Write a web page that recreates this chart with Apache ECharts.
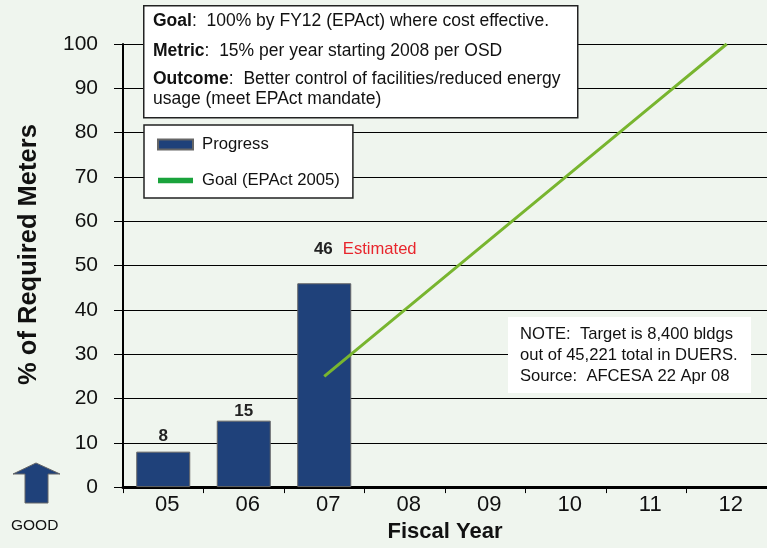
<!DOCTYPE html>
<html>
<head>
<meta charset="utf-8">
<script src="https://cdn.jsdelivr.net/npm/echarts@6/dist/echarts.min.js"></script>
<style>html,body{margin:0;padding:0;background:#eff5ee;}#c{width:767px;height:548px;}</style>
</head>
<body>
<div id="c"></div>
<script>
const categories = ['05','06','07','08','09','10','11','12'];
const progress = [8, 15, 46, null, null, null, null, null];
const goal = [null, null, 25, 40, 55, 70, 85, 100];
const yTicks = {min: 0, max: 100, interval: 10};

const F = 'Liberation Sans, Arial, sans-serif';
const labelDistance = [7, 1, 5];
const chart = echarts.init(document.getElementById('c'));
const boxRich = {b: {fontWeight: 'bold', fontSize: 17.5, fontFamily: F, fill: '#111'}};
chart.setOption({
  backgroundColor: '#eff5ee',
  animation: false,
  textStyle: {fontFamily: F},
  grid: {left: 123, top: 44, width: 650, height: 447, containLabel: false},
  legend: {
    orient: 'vertical', left: 144, top: 125,
    backgroundColor: '#fff', borderColor: '#222', borderWidth: 1.5,
    padding: [11, 13, 9, 13], itemWidth: 35, itemHeight: 10, itemGap: 19,
    textStyle: {fontSize: 16.7, color: '#111', fontFamily: F, padding: [0,0,0,4]},
    data: [
      {name: 'Progress', icon: 'rect'},
      {name: 'Goal (EPAct 2005)', icon: 'path://M0,0 L35,0 L35,5.5 L0,5.5 Z', itemStyle: {color: '#1aa33c'}}
    ]
  },
  xAxis: {
    type: 'category', data: categories, boundaryGap: true,
    name: 'Fiscal Year', nameLocation: 'middle', nameGap: 33,
    nameTextStyle: {fontSize: 22, fontWeight: 'bold', color: '#111', fontFamily: F},
    axisLine: {lineStyle: {color: '#000', width: 3}},
    axisTick: {show: true, inside: false, length: 6, lineStyle: {color: '#000', width: 1}},
    axisLabel: {fontSize: 22, color: '#111', margin: 7, padding: [0,0,0,8], fontFamily: F},
    splitLine: {show: false}
  },
  yAxis: {
    type: 'value', min: yTicks.min, max: yTicks.max, interval: yTicks.interval,
    name: '% of Required Meters', nameLocation: 'middle', nameGap: 81, nameRotate: 90,
    nameTextStyle: {fontSize: 25.5, fontWeight: 'bold', color: '#111', fontFamily: F, padding: [0, 0, 0, 22]},
    axisLine: {show: true, lineStyle: {color: '#000', width: 2}},
    axisTick: {show: true, inside: false, length: 9, lineStyle: {color: '#000', width: 1}},
    axisLabel: {fontSize: 21, color: '#111', margin: 25, fontFamily: F},
    splitLine: {show: true, lineStyle: {color: '#000', width: 1}}
  },
  series: [
    {
      name: 'Progress', type: 'bar', barWidth: 54,
      itemStyle: {color: '#1f417a', borderColor: '#666', borderWidth: 1},
      label: {show: true, position: 'top', fontSize: 17, fontWeight: 'bold', color: '#222', fontFamily: F},
      data: progress.map((v, i) => i === 2 ? {
        value: v,
        label: {
          formatter: '{v|{c}}{e|Estimated}', offset: [41, -20],
          rich: {
            v: {fontSize: 17, fontWeight: 'bold', color: '#222', fontFamily: F},
            e: {fontSize: 16.6, fontWeight: 'normal', color: '#e8262d', fontFamily: F, padding: [0, 0, 0, 10]}
          }
        }
      } : (v == null ? v : {value: v, label: {distance: labelDistance[i]}}))
    },
    {
      name: 'Goal (EPAct 2005)', type: 'line', data: goal, symbol: 'none',
      lineStyle: {color: '#78b52f', width: 3}, itemStyle: {color: '#78b52f'}, z: 3
    }
  ],
  graphic: [
    {type: 'rect', left: 143, top: 5, shape: {width: 434, height: 112},
     style: {fill: '#fff', stroke: '#222', lineWidth: 1.5}, z: 10},
    {type: 'text', left: 153, top: 12, z: 11, style: {text: '{b|Goal}:  100% by FY12 (EPAct) where cost effective.', fontSize: 17.5, fill: '#111', fontFamily: F, rich: boxRich}},
    {type: 'text', left: 153, top: 42, z: 11, style: {text: '{b|Metric}:  15% per year starting 2008 per OSD', fontSize: 17.5, fill: '#111', fontFamily: F, rich: boxRich}},
    {type: 'text', left: 153, top: 70, z: 11, style: {text: '{b|Outcome}:  Better control of facilities/reduced energy', fontSize: 17.5, fill: '#111', fontFamily: F, rich: boxRich}},
    {type: 'text', left: 153, top: 90, z: 11, style: {text: 'usage (meet EPAct mandate)', fontSize: 17.5, fill: '#111', fontFamily: F}},
    {type: 'rect', left: 508, top: 317, shape: {width: 243, height: 76}, style: {fill: '#fff'}, z: 10},
    {type: 'text', left: 520, top: 324, z: 11, style: {text: 'NOTE:  Target is 8,400 bldgs\nout of 45,221 total in DUERS.\nSource:  AFCESA 22 Apr 08', fontSize: 16.6, lineHeight: 21, fill: '#111', fontFamily: F}},
    {type: 'polygon', z: 10, shape: {points: [[36,463],[60,474],[48,474],[48,503],[25,503],[25,474],[13,474]]},
     style: {fill: '#1f417a', stroke: '#666', lineWidth: 1}},
    {type: 'text', left: 11, top: 518, z: 11, style: {text: 'GOOD', fontSize: 15.5, fill: '#111', fontFamily: F}}
  ]
});
</script>
</body>
</html>
